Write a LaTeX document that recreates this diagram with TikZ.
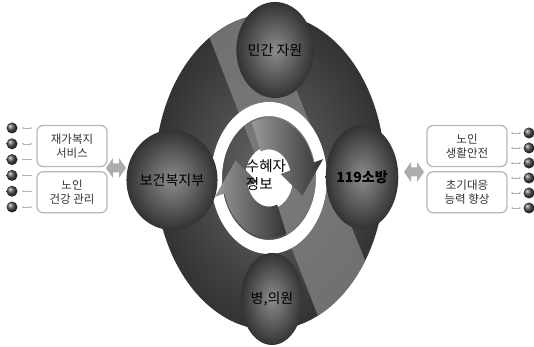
\documentclass[tikz,border=0pt]{standalone}
\usepackage{fontspec}
\setmainfont{Noto Sans CJK KR}
\usetikzlibrary{shapes,arrows.meta,positioning,calc}
\tikzset{
	orgball/.style={ellipse, inner color=black!45, outer color=black!80, inner sep=0pt,
		font=\fontsize{14}{16}\selectfont, text=black},
	sidebox/.style={rectangle, draw=gray!55, line width=1.3pt, rounded corners=6pt, fill=white,
		minimum height=41pt, align=center, font=\fontsize{11.5}{14.5}\selectfont, text=black!80},
	linkarr/.pic={\fill[gray!65] (-10,0) -- (-3,10) -- (-3,4.5) -- (3,4.5) -- (3,10) -- (10,0)
		-- (3,-10) -- (3,-4.5) -- (-3,-4.5) -- (-3,-10) -- cycle;},
	dotball/.style={circle, ball color=gray!60!black, minimum size=11pt, inner sep=0pt},
	tinyarr/.style={{Stealth[length=2.5pt]}-{Stealth[length=2.5pt]}, gray!60, line width=0.5pt}
}
\begin{document}
\begin{tikzpicture}[x=1pt, y=1pt]
	\useasboundingbox (0,0) rectangle (534,347);
	% big oval with light band
	\shade[inner color=black!60, outer color=black!80] (270,175) ellipse [x radius=115, y radius=158];
	\begin{scope}
		\clip (270,175) ellipse [x radius=115, y radius=158];
		\fill[black!50, opacity=0.8] (195,347) -- (260,347) -- (400,0) -- (330,0) -- cycle;
	\end{scope}
	% white ring and arrows
	\fill[white, even odd rule] (269,169) ellipse [x radius=58, y radius=76]
		(269,169) ellipse [x radius=47, y radius=62];
	\begin{scope}[shift={(269,169)}, yscale=1.3]
		\fill[white] (0,0) circle [radius=24];
		\foreach \r in {0,180}
			\shade[rotate=\r, left color=black!40, right color=black!80]
				(112:46) arc[start angle=112, end angle=15, radius=46] -- (15:56) -- (-22:36)
				-- (15:12) -- (15:22) arc[start angle=15, end angle=112, radius=22] -- cycle;
	\end{scope}
	\node[align=left, font=\fontsize{14.5}{18}\selectfont] (info) at (266,172) {수혜자\\정보};
	% partner circles
	\node[orgball, minimum width=66pt, minimum height=96pt] (priv) at (275,297) {민간 자원};
	\node[orgball, minimum width=72pt, minimum height=100pt] (care) at (172,167) {보건복지부};
	\node[orgball, minimum width=72pt, minimum height=104pt, font=\fontsize{14}{16}\selectfont\bfseries] (fire) at (362,170) {119소방};
	\node[orgball, minimum width=62pt, minimum height=92pt] (hosp) at (272,48) {병,의원};
	% left side
	\node[sidebox, minimum width=70pt] (home) at (72,201) {재가복지\\서비스};
	\node[sidebox, minimum width=70pt, below=4pt of home] (health) {노인\\건강 관리};
	\pic at (116,179) {linkarr};
	% right side
	\node[sidebox, minimum width=80pt] (life) at (467,201) {노인\\생활안전};
	\node[sidebox, minimum width=80pt, below=4pt of life] (resp) {초기대응\\능력 향상};
	\pic at (414,175) {linkarr};
	% dots
	\foreach \i in {1,...,6} {
		\node[dotball] (lb\i) at (12,{219-(\i-1)*15.8}) {};
		\draw[tinyarr, shorten <=4pt, shorten >=4pt] (lb\i.east) -- (lb\i -| home.west);
		\node[dotball] (rb\i) at (529,{214-(\i-1)*15}) {};
		\draw[tinyarr, shorten <=3pt, shorten >=2pt] (rb\i -| life.east) -- (rb\i.west);
	}
\end{tikzpicture}
\end{document}
